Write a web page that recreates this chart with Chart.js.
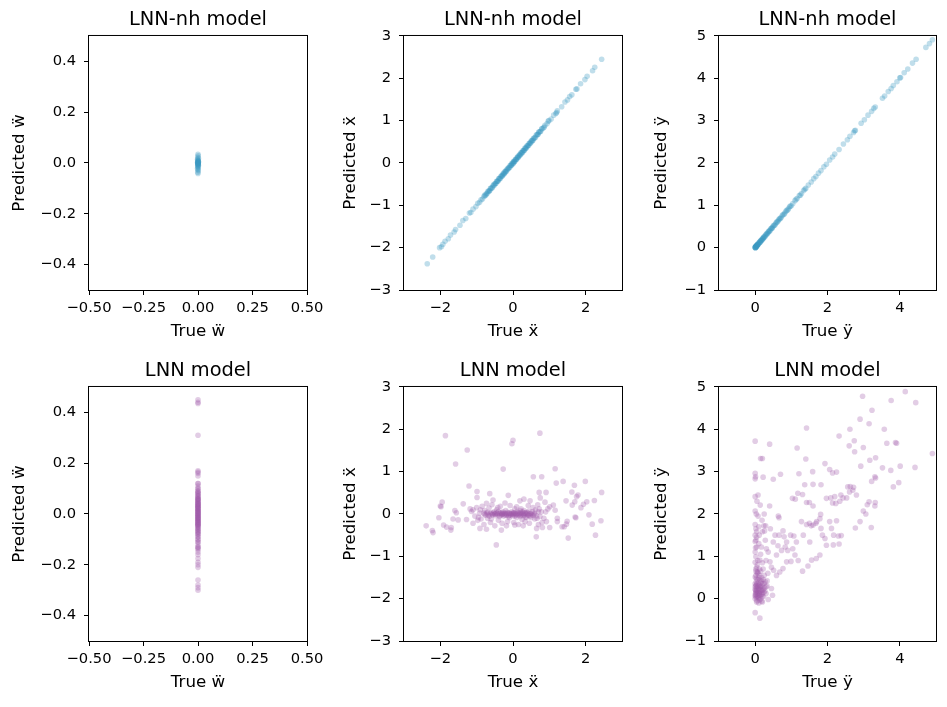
<!DOCTYPE html>
<html>
<head>
<meta charset="utf-8">
<title>LNN-nh vs LNN predictions</title>
<script src="https://cdn.jsdelivr.net/npm/chart.js@4.4.1/dist/chart.umd.min.js"></script>
<style>
  body { margin: 0; background: #fff; }
  #fig { position: relative; width: 947px; height: 707px; overflow: hidden; }
  canvas { position: absolute; }
</style>
</head>
<body>
<div id="fig">
  <canvas id="p1" width="335" height="350" style="left:0px;top:0px"></canvas>
  <canvas id="p2" width="335" height="350" style="left:315px;top:0px"></canvas>
  <canvas id="p3" width="317" height="350" style="left:630px;top:0px"></canvas>
  <canvas id="p4" width="335" height="350" style="left:0px;top:351px"></canvas>
  <canvas id="p5" width="335" height="350" style="left:315px;top:351px"></canvas>
  <canvas id="p6" width="317" height="350" style="left:630px;top:351px"></canvas>
</div>
<script>
// ---- data ----
var titles = ['LNN-nh model', 'LNN model'];

// LNN-nh, w
var trueW_nh = [0, 0.001, -0.001, 0.002, -0.002, 0, 0.001, -0.001, 0, 0.002, -0.002, 0.001, 0, -0.001, 0.001,
                0, 0.002, -0.001, 0, 0.001, -0.002, 0, 0.001, -0.001, 0, 0.002, 0, -0.001, 0.001, 0];
var predW_nh = [0.034, 0.028, 0.022, 0.018, 0.015, 0.012, 0.010, 0.008, 0.006, 0.004, 0.002, 0.000, -0.002, -0.004, -0.006,
                -0.008, -0.010, -0.012, -0.015, -0.018, -0.022, -0.026, -0.030, -0.036, -0.041, 0.005, -0.005, 0.001, -0.001, 0.003];

// LNN-nh, x
var trueX_nh = [-2.36, -2.21, -2.02, -1.97, -1.93, -1.87, -1.78, -1.72, -1.62, -1.58,
                -1.46, -1.38, -1.30, -1.20, -1.16, -1.10, -1.02, -0.97, -0.92, -0.88,
                -0.84, -0.80, -0.76, -0.73, -0.70, -0.67, -0.64, -0.61, -0.58, -0.55,
                -0.52, -0.50, -0.47, -0.44, -0.41, -0.38, -0.36, -0.33, -0.30, -0.28,
                -0.25, -0.22, -0.20, -0.17, -0.14, -0.12, -0.09, -0.06, -0.04, -0.01,
                0.01, 0.03, 0.05, 0.08, 0.10, 0.13, 0.15, 0.18, 0.21, 0.23,
                0.26, 0.29, 0.31, 0.34, 0.37, 0.40, 0.43, 0.46, 0.49, 0.52,
                0.55, 0.58, 0.62, 0.66, 0.69, 0.72, 0.76, 0.80, 0.84, 0.88,
                0.94, 0.99, 1.05, 1.12, 1.18, 1.22, 1.34, 1.43, 1.50, 1.56,
                1.62, 1.73, 1.76, 1.86, 1.98, 2.04, 2.19, 2.25, 2.44,
                -0.78, -0.74, -0.69, -0.65, -0.62, -0.57, -0.53, -0.48, -0.45, -0.42,
                -0.39, -0.35, -0.32, -0.29, -0.26, -0.24, -0.21, -0.18, -0.15, -0.11,
                -0.08, -0.05, -0.03, 0.00, 0.02, 0.04, 0.07, 0.09, 0.12, 0.14,
                0.17, 0.19, 0.22, 0.25, 0.27, 0.30, 0.33, 0.35, 0.38, 0.41,
                0.44, 0.47, 0.50, 0.53, 0.56, 0.60, 0.64, 0.68, 0.71, 0.75,
                0.79, 0.86, 0.97, 1.20];
var predX_nh = [-2.38, -2.22, -2.00, -1.98, -1.92, -1.85, -1.79, -1.70, -1.63, -1.57,
                -1.47, -1.36, -1.31, -1.18, -1.17, -1.09, -1.03, -0.95, -0.93, -0.87,
                -0.85, -0.79, -0.77, -0.72, -0.71, -0.66, -0.65, -0.60, -0.59, -0.54,
                -0.53, -0.49, -0.48, -0.43, -0.42, -0.37, -0.37, -0.32, -0.31, -0.27,
                -0.26, -0.21, -0.21, -0.16, -0.15, -0.11, -0.10, -0.05, -0.05, 0.00,
                0.00, 0.04, 0.04, 0.09, 0.09, 0.14, 0.14, 0.19, 0.20, 0.24,
                0.25, 0.30, 0.30, 0.35, 0.36, 0.41, 0.42, 0.47, 0.48, 0.53,
                0.54, 0.59, 0.61, 0.67, 0.68, 0.73, 0.75, 0.81, 0.83, 0.89,
                0.93, 1.00, 1.04, 1.13, 1.17, 1.23, 1.33, 1.44, 1.49, 1.57,
                1.61, 1.74, 1.75, 1.87, 1.97, 2.05, 2.18, 2.26, 2.45,
                -0.76, -0.75, -0.67, -0.66, -0.60, -0.58, -0.51, -0.49, -0.43, -0.43,
                -0.37, -0.36, -0.30, -0.30, -0.24, -0.25, -0.19, -0.19, -0.13, -0.12,
                -0.06, -0.06, -0.01, -0.02, 0.04, 0.03, 0.09, 0.08, 0.14, 0.13,
                0.19, 0.18, 0.24, 0.24, 0.29, 0.29, 0.35, 0.34, 0.40, 0.40,
                0.46, 0.46, 0.52, 0.52, 0.58, 0.59, 0.66, 0.67, 0.73, 0.74,
                0.81, 0.85, 0.99, 1.19];

// LNN-nh, y
var trueY_nh = [0.00, 0.01, 0.01, 0.02, 0.03, 0.04, 0.05, 0.06, 0.07, 0.08,
                0.10, 0.11, 0.13, 0.15, 0.17, 0.19, 0.21, 0.23, 0.25, 0.28,
                0.30, 0.33, 0.36, 0.39, 0.42, 0.45, 0.48, 0.52, 0.56, 0.60,
                0.64, 0.68, 0.72, 0.77, 0.82, 0.87, 0.92, 0.97, 1.04, 1.10,
                1.16, 1.22, 1.28, 1.34, 1.40, 1.47, 1.55, 1.62, 1.68, 1.75,
                1.82, 1.90, 1.97, 2.06, 2.14, 2.20, 2.32, 2.44, 2.55, 2.62,
                2.72, 2.75, 2.77, 2.93, 3.02, 3.12, 3.22, 3.28, 3.32, 3.52,
                3.58, 3.68, 3.76, 3.82, 3.92, 4.00, 4.02, 4.12, 4.22, 4.35,
                4.45, 4.72, 4.82, 4.90,
                0.00, 0.00, 0.01, 0.02, 0.02, 0.03, 0.04, 0.05, 0.06, 0.07,
                0.09, 0.12, 0.14, 0.16, 0.18, 0.20, 0.22, 0.24, 0.27, 0.31,
                0.34, 0.37, 0.40, 0.44, 0.47, 0.50, 0.54, 0.58, 0.62, 0.66,
                0.70, 0.75, 0.80, 0.85, 0.90, 0.95, 1.00, 1.13, 1.25, 1.37];
var predY_nh = [0.01, 0.00, 0.02, 0.02, 0.03, 0.05, 0.05, 0.07, 0.07, 0.09,
                0.10, 0.12, 0.13, 0.16, 0.17, 0.20, 0.21, 0.24, 0.25, 0.29,
                0.30, 0.34, 0.36, 0.40, 0.42, 0.46, 0.48, 0.53, 0.56, 0.61,
                0.64, 0.69, 0.72, 0.78, 0.82, 0.88, 0.92, 0.98, 1.04, 1.11,
                1.16, 1.23, 1.28, 1.35, 1.40, 1.48, 1.55, 1.63, 1.68, 1.76,
                1.82, 1.91, 1.97, 2.07, 2.14, 2.21, 2.32, 2.45, 2.55, 2.63,
                2.72, 2.76, 2.77, 2.94, 3.02, 3.13, 3.22, 3.29, 3.32, 3.53,
                3.58, 3.69, 3.76, 3.83, 3.92, 4.01, 4.02, 4.13, 4.22, 4.36,
                4.45, 4.73, 4.82, 4.91,
                0.00, 0.01, 0.00, 0.03, 0.01, 0.04, 0.03, 0.06, 0.05, 0.08,
                0.08, 0.13, 0.13, 0.17, 0.17, 0.21, 0.21, 0.25, 0.26, 0.32,
                0.33, 0.38, 0.39, 0.45, 0.46, 0.51, 0.53, 0.59, 0.61, 0.67,
                0.69, 0.76, 0.79, 0.86, 0.89, 0.96, 0.99, 1.14, 1.24, 1.38];

// LNN, w
var trueW_lnn = [0, 0, 0, 0, 0, 0, 0, 0, 0, 0, 0, 0,
                 0, 0, 0, 0, 0, 0, 0, 0, 0, 0, 0, 0,
                 0, 0, 0, 0, 0, 0, 0, 0, 0, 0, 0, 0,
                 0, 0, 0, 0, 0, 0, 0, 0, 0, 0, 0, 0,
                 0, 0, 0, 0, 0, 0, 0, 0, 0, 0, 0, 0,
                 0, 0, 0, 0, 0, 0, 0, 0, 0, 0, 0, 0,
                 0, 0, 0, 0, 0, 0, 0, 0, 0, 0, 0, 0,
                 0, 0, 0, 0, 0, 0, 0, 0, 0, 0, 0, 0,
                 0, 0, 0, 0, 0, 0, 0, 0, 0, 0, 0, 0];
var predW_lnn = [0.45, 0.44, 0.435, 0.31, 0.17, 0.165, 0.16, 0.15, 0.12, 0.11,
                 0.10, 0.09, 0.085, 0.08, 0.07, 0.065, 0.06, 0.055, 0.05, 0.045,
                 0.04, 0.035, 0.03, 0.025, 0.02, 0.015, 0.01, 0.005, 0.0, -0.005,
                 -0.01, -0.015, -0.02, -0.025, -0.03, -0.035, -0.04, -0.045, -0.05, -0.06,
                 -0.065, -0.07, -0.08, -0.09, -0.10, -0.11, -0.13, -0.135, -0.14, -0.16,
                 -0.175, -0.19, -0.20, -0.21, -0.26, -0.28, -0.29, -0.30,
                 0.0, 0.02, -0.02, 0.04, -0.04, 0.01, -0.01, 0.03, -0.03, 0.06,
                 0.12, 0.10, 0.09, 0.08, 0.075, 0.07, 0.06, 0.055, 0.05, 0.045,
                 0.04, 0.035, 0.03, 0.025, 0.02, 0.015, 0.01, 0.005, 0.0, -0.005,
                 -0.01, -0.015, -0.02, -0.025, -0.03, -0.035, -0.04, -0.045, -0.05, -0.055,
                 -0.06, -0.07, -0.075, -0.08, -0.09, -0.10, -0.11, -0.12, -0.13, -0.15];

// LNN, x  [true, predicted]
var xPairs_lnn = [
  [-1.86, 1.85], [-1.26, 1.51], [-1.58, 1.18], [-0.27, 1.06], [-0.03, 1.66], [0.00, 1.74], [0.74, 1.91], [0.56, 0.88],
  [0.79, 0.88], [1.16, 1.07], [1.38, 0.77], [1.19, 0.73], [1.62, 0.52], [1.69, 0.68], [1.99, 0.77], [2.44, 0.51],
  [-1.21, 0.66], [-0.99, 0.53], [-0.99, 0.39], [0.72, 0.51], [0.91, 0.51], [-0.64, 0.48], [-0.13, 0.44], [-1.95, 0.28],
  [-2.0, 0.19], [-1.98, 0.17], [-2.04, -0.09], [-2.39, -0.28], [-2.22, -0.39], [-2.2, -0.44], [-1.91, -0.26], [-1.83, -0.31],
  [-1.7, -0.32], [-1.71, -0.38], [-1.6, 0.08], [-1.56, 0.03], [-1.65, -0.12], [-1.51, -0.14], [-1.37, 0.24], [-1.28, -0.13],
  [-1.14, 0.06], [-1.1, -0.22], [-0.97, -0.15], [-0.91, -0.34], [-0.73, 0.25], [-0.73, -0.36], [-0.46, -0.73], [-0.32, -0.38],
  [-0.18, -0.28], [0.05, -0.26], [0.19, 0.31], [0.28, -0.28], [0.37, -0.08], [0.47, 0.31], [0.64, -0.54], [0.65, -0.34],
  [0.81, -0.32], [0.92, -0.18], [1.01, -0.32], [0.96, 0.12], [1.01, 0.17], [1.11, 0.21], [1.16, 0.09], [1.22, -0.1],
  [1.22, -0.18], [1.35, -0.3], [1.41, -0.3], [1.47, -0.24], [1.49, -0.17], [1.52, -0.57], [1.46, 0.31], [1.63, 0.21],
  [1.7, 0.29], [1.75, 0.41], [1.79, 0.45], [1.71, -0.07], [1.73, -0.09], [1.87, 0.15], [1.94, 0.23], [2.03, 0.29],
  [2.09, -0.02], [2.18, -0.24], [2.24, 0.32], [2.27, -0.5], [2.42, -0.16],
  [-1.18, 0.12], [-1.05, -0.05], [-1.0, 0.15], [-0.92, 0.02], [-0.88, -0.12], [-0.85, 0.18], [-0.8, -0.25], [-0.78, 0.08],
  [-0.7, -0.1], [-0.66, 0.14], [-0.62, -0.2], [-0.58, 0.22], [-0.55, 0.33], [-0.5, -0.28], [-0.45, 0.1], [-0.4, -0.15],
  [-0.35, 0.18], [-0.3, -0.22], [-0.22, 0.26], [-0.15, -0.18], [-0.08, 0.2], [0.02, -0.2], [0.1, 0.17], [0.15, -0.25],
  [0.22, 0.12], [0.3, 0.35], [0.33, -0.18], [0.42, 0.2], [0.45, -0.22], [0.55, 0.15], [0.6, -0.12], [0.68, 0.22],
  [0.7, -0.25], [0.75, 0.38], [0.78, 0.05], [0.85, -0.1], [0.88, 0.28],
  [-0.8, 0.02], [-0.75, -0.03], [-0.7, 0.04], [-0.65, -0.05], [-0.6, 0.03], [-0.56, -0.02], [-0.52, 0.05], [-0.48, -0.04],
  [-0.44, 0.01], [-0.4, 0.06], [-0.37, -0.06], [-0.34, 0.02], [-0.31, -0.02], [-0.28, 0.05], [-0.25, -0.05], [-0.22, 0.01],
  [-0.19, -0.03], [-0.16, 0.04], [-0.13, -0.06], [-0.1, 0.02], [-0.07, -0.02], [-0.04, 0.05], [-0.01, -0.04], [0.02, 0.03],
  [0.05, -0.05], [0.08, 0.01], [0.11, 0.06], [0.14, -0.03], [0.17, 0.03], [0.2, -0.06], [0.23, 0.0], [0.26, 0.05],
  [0.29, -0.04], [0.32, 0.02], [0.35, -0.07], [0.38, 0.04], [0.41, -0.02], [0.44, 0.07], [0.47, -0.05], [0.5, 0.01],
  [0.53, 0.05], [0.56, -0.03], [0.6, 0.02], [0.65, -0.04], [0.7, 0.05], [0.74, -0.06], [-0.5, 0.0], [-0.3, 0.0],
  [-0.1, -0.08], [0.1, -0.08], [0.3, 0.08], [0.5, -0.08], [0.0, 0.0], [-0.2, 0.08], [0.2, 0.08],
  [-0.78, -0.01], [-0.72, 0.02], [-0.68, -0.02], [-0.63, 0.01], [-0.58, -0.01], [-0.54, 0.02], [-0.49, 0.0], [-0.46, 0.03],
  [-0.42, -0.02], [-0.38, 0.01], [-0.35, -0.03], [-0.32, 0.03], [-0.29, 0.0], [-0.26, 0.02], [-0.23, -0.02], [-0.2, 0.01],
  [-0.17, -0.01], [-0.14, 0.02], [-0.11, -0.03], [-0.08, 0.01], [-0.05, 0.0], [-0.02, 0.02], [0.01, -0.01], [0.04, 0.02],
  [0.07, -0.02], [0.1, 0.0], [0.13, 0.03], [0.16, -0.01], [0.19, 0.01], [0.22, -0.03], [0.25, 0.02], [0.28, 0.0],
  [0.31, -0.02], [0.34, 0.03], [0.37, 0.0], [0.4, 0.02], [0.43, -0.03], [0.46, 0.01], [0.52, -0.02], [0.58, 0.0],
  [-1.1, 0.1], [-0.95, -0.08], [-0.9, 0.1], [0.62, 0.1], [0.66, -0.1], [0.72, 0.12], [0.8, -0.2], [0.9, 0.05],
  [-0.6, -0.12], [-0.42, 0.15], [0.05, 0.12], [0.25, -0.13]
];

// LNN, y  [true, predicted]
var yPairs_lnn = [
  [0, 3.72], [0, 2.96], [0.01, 2.88], [0, 2.83], [0, 2.41], [0.05, 2.3], [0.08, 2.45], [0, 2.07], [0.4, 3.65], [0.15, 3.31],
  [0.2, 3.31], [0.22, 2.87], [0.5, 2.82], [0.7, 2.94], [0.4, 2.19], [0.64, 1.95], [0.66, 1.91], [0.14, 2.21], [0.25, 2.0],
  [1.16, 3.56], [1.42, 4.03], [1.4, 3.3], [1.21, 2.95], [1.37, 2.69], [1.59, 3.0], [1.6, 2.7], [1.82, 2.69], [1.93, 3.19],
  [2.06, 3.05], [2.14, 2.97], [2.25, 2.99], [2.32, 3.84], [2.62, 4.0], [2.6, 3.61], [2.74, 3.73], [2.75, 3.47], [2.9, 4.24],
  [2.97, 4.78], [2.99, 3.57], [2.92, 3.13], [3.15, 4.13], [3.23, 4.45], [3.17, 3.27], [3.33, 3.33], [3.31, 2.88], [3.22, 2.77],
  [3.33, 2.85], [3.57, 4.0], [3.64, 3.67], [3.52, 3.09], [3.75, 3.03], [3.76, 4.68], [3.82, 2.64], [3.88, 3.69], [3.91, 3.67],
  [3.97, 2.74], [4.01, 3.13], [4.15, 4.89], [4.44, 4.63], [4.42, 3.1], [4.9, 3.43], [3.15, 2.29], [3.32, 2.27], [3.31, 2.19],
  [3.1, 2.22], [2.99, 2.07], [3.06, 2.0], [2.9, 1.82], [3.21, 1.68], [2.77, 1.67], [2.7, 2.56], [2.63, 2.65], [2.56, 2.64],
  [2.72, 2.63], [2.61, 2.52], [2.8, 2.45], [2.53, 2.38], [2.37, 2.45], [2.43, 2.38], [2.34, 2.3], [2.2, 2.41], [2.14, 2.26],
  [1.97, 2.37], [2.09, 2.38], [2.23, 2.25], [2.25, 1.84], [2.06, 1.82], [2.11, 1.66], [2.17, 1.5], [2.3, 1.48], [2.38, 1.49],
  [2.32, 1.29], [2.16, 1.27], [1.97, 1.26], [1.93, 1.42], [1.82, 1.66], [1.86, 1.5], [1.79, 1.89], [1.81, 1.99], [1.7, 1.82],
  [1.6, 2.19], [1.5, 2.27], [1.42, 2.27], [1.31, 2.46], [1.18, 2.49], [1.11, 2.35], [1.03, 2.37], [1.5, 1.78], [1.42, 1.75],
  [1.55, 1.72], [1.68, 1.78], [1.28, 1.82], [1.33, 1.5], [1.51, 1.34], [1.6, 1.74], [1.79, 1.03], [1.69, 0.95], [1.56, 0.91],
  [1.46, 0.77], [1.31, 0.65], [1.19, 0.9], [1.14, 1.34], [1.07, 1.48], [0.98, 1.5], [0.87, 1.34], [0.77, 1.6], [0.8, 1.46],
  [0.9, 1.14], [1.04, 1.18], [1.1, 1.03], [0.99, 0.88], [0.87, 0.87], [0.77, 0.71], [0.68, 0.63], [0.59, 0.55], [0.51, 0.67],
  [0.33, 0.42], [0.45, 0.24], [0.48, 0.08], [0.36, -0.02], [0.18, -0.06], [0, -0.33], [0.13, -0.46],
  [0, 1.75], [0.02, 1.65], [0.04, 1.58], [0, 1.5], [0.02, 1.38], [0.04, 1.22], [0, 1.1], [0.02, 0.99], [0, 0.86], [0.04, 0.74],
  [0.02, 0.65], [0, 0.51], [0.07, 0.63], [0.13, 0.91], [0.17, 1.22], [0.11, 1.5], [0.2, 1.58], [0.24, 1.72], [0.26, 1.6],
  [0.29, 1.72], [0.19, 1.85], [0.28, 1.38], [0.31, 1.18], [0.36, 1.1], [0.41, 0.87], [0.45, 0.74], [0.59, 1.03], [0.63, 1.25],
  [0.73, 1.14], [0.83, 1.22], [0.5, 1.34], [0.55, 1.5], [0.66, 1.5], [0.42, 1.65], [0.1, 1.3], [0.06, 0.8], [0.12, 0.55],
  [0.22, 0.7], [0.3, 0.9], [0.35, 0.6], [0.15, 1.05], [0.08, 1.95], [0.03, 2.0], [0.1, 1.7],
  [0, 0.0], [0.01, 0.05], [0.02, 0.1], [0.03, 0.15], [0.01, 0.2], [0.04, 0.25], [0.02, 0.3], [0.05, 0.35], [0.03, 0.4],
  [0.06, 0.45], [0.08, 0.02], [0.1, 0.08], [0.12, 0.14], [0.09, 0.2], [0.14, 0.26], [0.11, 0.32], [0.16, 0.38], [0.13, 0.44],
  [0.18, 0.5], [0.2, 0.12], [0.22, 0.22], [0.19, 0.3], [0.25, 0.36], [0.27, 0.18], [0.23, 0.05], [0.3, 0.28], [0.06, 0.12],
  [0.04, 0.02], [0.15, 0.0], [0.07, 0.3], [0.17, 0.2], [0.0, 0.22], [0.0, 0.35], [0.05, -0.05], [0.1, -0.1], [0.2, -0.08],
  [0.02, 0.55], [0.08, 0.6], [0.25, 0.55], [0.12, 0.7],
  [0.0, 0.08], [0.01, 0.12], [0.02, 0.18], [0.0, 0.28], [0.03, 0.32], [0.05, 0.2], [0.06, 0.06], [0.07, 0.15], [0.08, 0.25],
  [0.09, 0.38], [0.1, 0.02], [0.11, 0.12], [0.12, 0.22], [0.13, 0.3], [0.14, 0.08], [0.15, 0.16], [0.16, 0.28], [0.17, 0.42],
  [0.18, 0.1], [0.19, 0.05], [0.2, 0.2], [0.21, 0.35], [0.22, 0.45], [0.24, 0.15], [0.26, 0.25], [0.28, 0.4], [0.3, 0.12],
  [0.03, 0.48], [0.05, 0.62], [0.1, 0.5], [0.02, 0.7], [0.07, 0.9], [0.01, 1.2], [0.0, 1.35], [0.04, 1.45], [0.15, 0.65],
  [0.2, 0.85], [0.33, 0.3], [0.04, -0.08], [0.12, -0.03]
];

// ticks
var wTicksX = [-0.5, -0.25, 0, 0.25, 0.5];
var wLabelsX = ['\u22120.50', '\u22120.25', '0.00', '0.25', '0.50'];
var wTicksY = [-0.4, -0.2, 0, 0.2, 0.4];
var wLabelsY = ['\u22120.4', '\u22120.2', '0.0', '0.2', '0.4'];
var xTicksX = [-2, 0, 2];
var xLabelsX = ['\u22122', '0', '2'];
var xTicksY = [-3, -2, -1, 0, 1, 2, 3];
var xLabelsY = ['\u22123', '\u22122', '\u22121', '0', '1', '2', '3'];
var yTicksX = [0, 2, 4];
var yLabelsX = ['0', '2', '4'];
var yTicksY = [-1, 0, 1, 2, 3, 4, 5];
var yLabelsY = ['\u22121', '0', '1', '2', '3', '4', '5'];

var blue = 'rgba(60, 152, 194, 0.32)';
var purple = 'rgba(160, 88, 170, 0.3)';

Chart.defaults.font.family = "'DejaVu Sans', sans-serif";
Chart.defaults.font.size = 14.7;
Chart.defaults.color = '#000';

var boxPlugin = {
  id: 'box',
  afterDraw: function(chart) {
    var a = chart.chartArea, ctx = chart.ctx;
    ctx.save();
    ctx.strokeStyle = '#000';
    ctx.lineWidth = 1;
    ctx.strokeRect(a.left - 0.5, a.top - 0.5, a.right - a.left + 1, a.bottom - a.top + 1);
    ctx.restore();
  }
};

function zipPoints(xs, ys) {
  return xs.map(function(x, i) { return {x: x, y: ys[i]}; });
}
function pairPoints(pairs) {
  return pairs.map(function(p) { return {x: p[0], y: p[1]}; });
}

function makePanel(id, p) {
  new Chart(document.getElementById(id), {
    type: 'scatter',
    data: {
      datasets: [{
        data: p.points,
        backgroundColor: p.color,
        pointRadius: 2.8,
        pointHoverRadius: 2.8,
        pointBorderWidth: 0
      }]
    },
    options: {
      responsive: false,
      animation: false,
      layout: { padding: { left: 0, right: p.right, top: 0, bottom: 0 } },
      plugins: {
        legend: { display: false },
        tooltip: { enabled: false },
        title: {
          display: true, text: p.title, fullSize: false, color: '#000',
          font: { size: 19.4, weight: 'normal' },
          padding: { top: 8.3, bottom: 4.4 }
        }
      },
      scales: {
        x: {
          type: 'linear', min: p.xMin, max: p.xMax,
          afterBuildTicks: function(s) { s.ticks = p.xTicks.map(function(v) { return {value: v}; }); },
          afterFit: function(s) { s.height = 60; s.paddingLeft = 0; s.paddingRight = 0; },
          ticks: { callback: function(v, i) { return p.xLabels[i]; }, padding: 4.6, maxRotation: 0, autoSkip: false },
          grid: { drawOnChartArea: false, tickLength: 5, color: '#000' },
          border: { display: false },
          title: { display: true, text: p.xTitle, font: { size: 16.7 }, padding: { top: 0, bottom: p.xTitlePad } }
        },
        y: {
          type: 'linear', min: p.yMin, max: p.yMax,
          afterBuildTicks: function(s) { s.ticks = p.yTicks.map(function(v) { return {value: v}; }); },
          afterFit: function(s) { s.width = 89; s.paddingTop = 0; s.paddingBottom = 0; },
          ticks: { callback: function(v, i) { return p.yLabels[i]; }, padding: 8, autoSkip: false },
          grid: { drawOnChartArea: false, tickLength: 5, color: '#000' },
          border: { display: false },
          title: { display: true, text: p.yTitle, font: { size: 16.7 }, padding: { top: p.yTitlePad, bottom: 0 } }
        }
      }
    },
    plugins: [boxPlugin]
  });
}

makePanel('p1', { title: titles[0], points: zipPoints(trueW_nh, predW_nh), color: blue, right: 28,
  xMin: -0.5, xMax: 0.5, xTicks: wTicksX, xLabels: wLabelsX, yMin: -0.5, yMax: 0.5, yTicks: wTicksY, yLabels: wLabelsY,
  xTitle: 'True \u1E85', yTitle: 'Predicted \u1E85', xTitlePad: 8.8, yTitlePad: 9.2 });
makePanel('p2', { title: titles[0], points: zipPoints(trueX_nh, predX_nh), color: blue, right: 28,
  xMin: -3, xMax: 3, xTicks: xTicksX, xLabels: xLabelsX, yMin: -3, yMax: 3, yTicks: xTicksY, yLabels: xLabelsY,
  xTitle: 'True \u1E8D', yTitle: 'Predicted \u1E8D', xTitlePad: 8.8, yTitlePad: 25.9 });
makePanel('p3', { title: titles[0], points: zipPoints(trueY_nh, predY_nh), color: blue, right: 11,
  xMin: -1, xMax: 5, xTicks: yTicksX, xLabels: yLabelsX, yMin: -1, yMax: 5, yTicks: yTicksY, yLabels: yLabelsY,
  xTitle: 'True \u00FF', yTitle: 'Predicted \u00FF', xTitlePad: 8.8, yTitlePad: 21.5 });
makePanel('p4', { title: titles[1], points: zipPoints(trueW_lnn, predW_lnn), color: purple, right: 28,
  xMin: -0.5, xMax: 0.5, xTicks: wTicksX, xLabels: wLabelsX, yMin: -0.5, yMax: 0.5, yTicks: wTicksY, yLabels: wLabelsY,
  xTitle: 'True \u1E85', yTitle: 'Predicted \u1E85', xTitlePad: 8.5, yTitlePad: 9.2 });
makePanel('p5', { title: titles[1], points: pairPoints(xPairs_lnn), color: purple, right: 28,
  xMin: -3, xMax: 3, xTicks: xTicksX, xLabels: xLabelsX, yMin: -3, yMax: 3, yTicks: xTicksY, yLabels: xLabelsY,
  xTitle: 'True \u1E8D', yTitle: 'Predicted \u1E8D', xTitlePad: 8.5, yTitlePad: 25.9 });
makePanel('p6', { title: titles[1], points: pairPoints(yPairs_lnn), color: purple, right: 11,
  xMin: -1, xMax: 5, xTicks: yTicksX, xLabels: yLabelsX, yMin: -1, yMax: 5, yTicks: yTicksY, yLabels: yLabelsY,
  xTitle: 'True \u00FF', yTitle: 'Predicted \u00FF', xTitlePad: 8.5, yTitlePad: 21.5 });
</script>
</body>
</html>
